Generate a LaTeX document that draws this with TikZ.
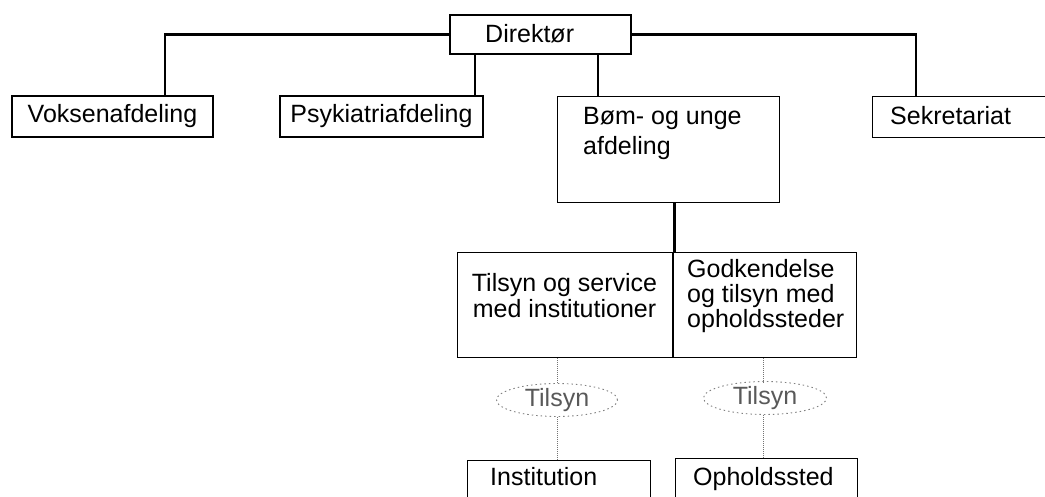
\documentclass[tikz,border=0pt]{standalone}
\usepackage{fontspec}
\setmainfont{Liberation Sans}
\usetikzlibrary{shapes.geometric,calc}
\tikzset{
  box/.style={draw=black, line width=1.3pt, rectangle, inner sep=0pt, fill=white},
  conn/.style={draw=black, line width=2.4pt},
  dotconn/.style={draw=black!55, line width=1pt, densely dotted},
  tilsyn/.style={ellipse, draw=black!50, line width=0.9pt, dash pattern=on 1.5pt off 3pt, inner sep=0pt, text=black!65, minimum width=121pt, minimum height=29pt},
  txt/.style={inner sep=0pt, align=left}
}
\begin{document}
\begin{tikzpicture}[x=1pt, y=-1pt, font=\fontsize{25}{30}\selectfont]
\useasboundingbox (0,0) rectangle (1045,497);
% nodes
\node[box, minimum width=181, minimum height=39] (dir) at (540.5,34.5) {};
\node[txt, anchor=base west] at (485,43) {Direktør};
\node[box, minimum width=201, minimum height=41] (vok) at (112.5,116.5) {Voksenafdeling};
\node[box, minimum width=203, minimum height=41] (psy) at (381.5,116.5) {Psykiatriafdeling};
\node[box, minimum width=180, minimum height=41, anchor=north west] (sek) at (872,96) {};
\node[txt, anchor=base west] at (890,125) {Sekretariat};
\node[box, minimum width=222, minimum height=106, anchor=north west] (born) at (557,96) {};
\node[txt, anchor=base west] at (583,155) {Bøm- og unge\\afdeling};
\node[box, minimum width=215, minimum height=105, anchor=north west] (tos) at (457,252) {};
\node[txt, align=center, anchor=base, font=\fontsize{25}{26}\selectfont] at (564.5,318) {Tilsyn og service\\med institutioner};
\node[box, minimum width=184, minimum height=105, anchor=north west] (god) at (672,252) {};
\node[txt, anchor=base west, font=\fontsize{25}{25}\selectfont] at (687,327) {Godkendelse\\og tilsyn med\\opholdssteder};
\node[tilsyn] (t1) at (557,400) {Tilsyn};
\node[tilsyn, minimum width=123pt] (t2) at (765,398) {Tilsyn};
\node[box, minimum width=183, minimum height=60, anchor=north west] (inst) at (467,460) {};
\node[txt, anchor=base west] at (490,485) {Institution};
\node[box, minimum width=182, minimum height=62, anchor=north west] (oph) at (675,458) {};
\node[txt, anchor=base west] at (693,485) {Opholdssted};
% connectors
\draw[conn] (dir.west) -- (165,34.5) coordinate (c1) -- (vok.north -| c1);
\draw[conn] (dir.east) -- (916,34.5) coordinate (c2) -- (sek.north -| c2);
\draw[conn] (dir.south -| 475,0) coordinate (c3) -- (c3 |- psy.north);
\draw[conn] (dir.south -| 598,0) coordinate (c4) -- (c4 |- born.north);
\draw[conn] (born.south -| tos.east) ++(1,0) coordinate (c5) -- (c5 |- tos.north);
\draw[box, fill=none] (tos.north east) -- (tos.south east);
\draw[dotconn] (tos.south -| t1.north) -- (t1.north);
\draw[dotconn] (t1.south) -- (t1.south |- inst.north);
\draw[dotconn] (god.south -| t2.north) ++(-2,0) -- ++(0,26);
\draw[dotconn] (t2.south) ++(-2,0) coordinate (c6) -- (c6 |- oph.north);
\end{tikzpicture}
\end{document}
